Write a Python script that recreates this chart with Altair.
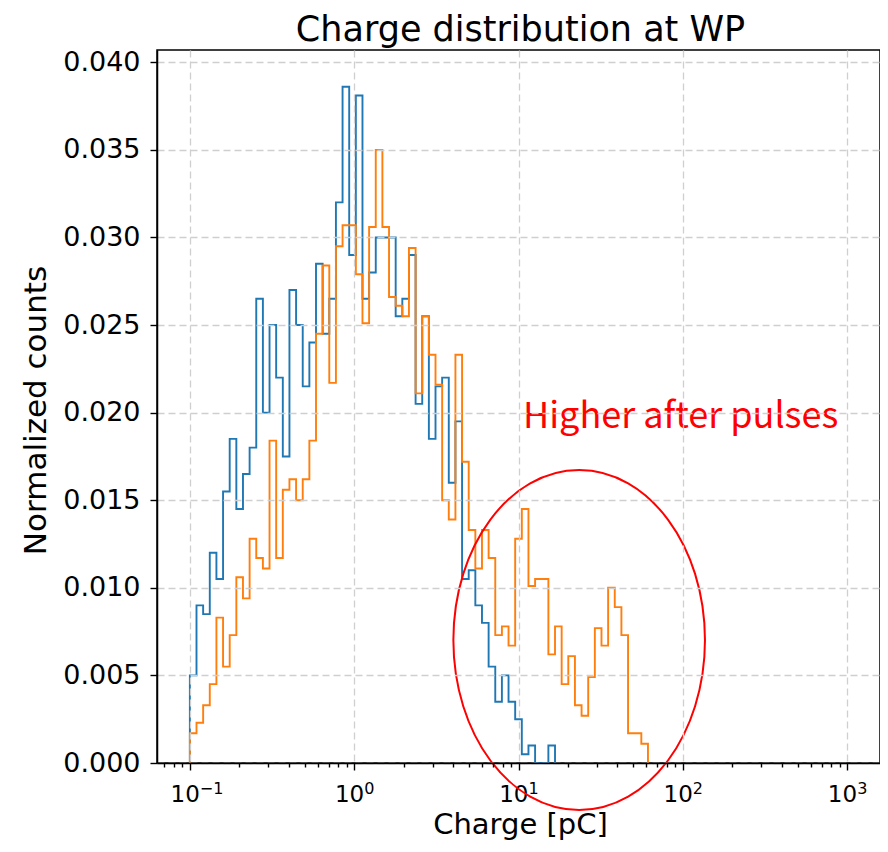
import altair as alt
import numpy as np
import pandas as pd

# ---- data ----
bin_log_start, bin_log_stop, bin_edge_count = -1, 3, 100   # np.logspace bins

blue_name = "Before"
orange_name = "After"

blue_values = [
    0.0050, 0.0090, 0.0085, 0.0120, 0.0105, 0.0155, 0.0185, 0.0145, 0.0165, 0.0180,
    0.0265, 0.0200, 0.0250, 0.0220, 0.0175, 0.0270, 0.0250, 0.0215, 0.0240, 0.0285,
    0.0245, 0.0265, 0.0320, 0.0386, 0.0290, 0.0381, 0.0265, 0.0280, 0.0300, 0.0300,
    0.0300, 0.0255, 0.0265, 0.0290, 0.0205, 0.0255, 0.0185, 0.0215, 0.0220, 0.0160,
    0.0195, 0.0105, 0.0110, 0.0090, 0.0080, 0.0055, 0.0035, 0.0050, 0.0035, 0.0025,
    0.0005, 0.0010, 0.0000, 0.0000, 0.0010,
]
orange_values = [
    0.0017, 0.0023, 0.0033, 0.0045, 0.0083, 0.0055, 0.0073, 0.0106, 0.0094, 0.0128,
    0.0117, 0.0111, 0.0184, 0.0117, 0.0156, 0.0162, 0.0150, 0.0162, 0.0184, 0.0245,
    0.0284, 0.0217, 0.0295, 0.0307, 0.0307, 0.0279, 0.0251, 0.0306, 0.0350, 0.0306,
    0.0266, 0.0261, 0.0255, 0.0294, 0.0211, 0.0255, 0.0233, 0.0216, 0.0150, 0.0139,
    0.0233, 0.0172, 0.0133, 0.0111, 0.0133, 0.0117, 0.0073, 0.0078, 0.0067, 0.0128,
    0.0145, 0.0101, 0.0105, 0.0105, 0.0062, 0.0078, 0.0045, 0.0061, 0.0033, 0.0027,
    0.0049, 0.0077, 0.0067, 0.0100, 0.0089, 0.0073, 0.0017, 0.0017, 0.0011,
]

major_ticks = [0.1, 1, 10, 100, 1000]
major_base = ["10", "10", "10", "10", "10"]
major_exponents = ["\u22121", "0", "1", "2", "3"]
minor_multipliers = [2, 3, 4, 5, 6, 7, 8, 9]
y_ticks = [0.000, 0.005, 0.010, 0.015, 0.020, 0.025, 0.030, 0.035, 0.040]

x_domain = [10 ** -1.2, 10 ** 3.2]
y_domain = [0.0, 0.0407]

chart_title = "Charge distribution at WP"
annotation_text = "Higher after pulses"
annotation_pos = (10.65, 0.0191)
ellipse_center = (23.4, 0.00702)

W, H = 723, 713

# ---- build step-outline table ----
edges = np.logspace(bin_log_start, bin_log_stop, bin_edge_count)


def step_rows(name, values):
    rows = [{"series": name, "x": edges[0], "y": 0.0, "o": 0}]
    for i, v in enumerate(values):
        rows.append({"series": name, "x": edges[i], "y": v, "o": i + 1})
    rows.append({"series": name, "x": edges[len(values)], "y": 0.0, "o": len(values) + 1})
    return rows


hist_df = pd.DataFrame(step_rows(blue_name, blue_values) + step_rows(orange_name, orange_values))

minor_ticks = []
for e in range(-2, 4):
    for m in minor_multipliers:
        v = round(m * 10.0 ** e, 6)
        if x_domain[0] < v < x_domain[1]:
            minor_ticks.append(v)

major_test = " || ".join(f"datum.value == {v}" for v in major_ticks)

FONT = "DejaVu Sans"
GRID = dict(gridColor="#cfcfcf", gridWidth=1.3, gridDash=[7, 4])

x_axis = alt.Axis(
    values=sorted(major_ticks + minor_ticks),
    labels=False,
    tickColor="black", tickWidth=1.4,
    tickSize={"condition": {"test": major_test, "value": 7}, "value": 4},
    domainColor="black", domainWidth=1.5,
    grid=True,
    gridOpacity={"condition": {"test": major_test, "value": 1}, "value": 0},
    title="Charge [pC]", titleFont=FONT, titleFontSize=29, titleFontWeight="normal",
    titleColor="black", titleX=363, titleY=70.5, titleBaseline="alphabetic",
    titleAlign="center",
    zindex=1,
    **GRID,
)

y_axis = alt.Axis(
    values=y_ticks, format=".3f",
    labelFont=FONT, labelFontSize=27, labelColor="black",
    labelPadding=10, labelFlush=False, labelOverlap=False,
    tickColor="black", tickWidth=1.4, tickSize=7,
    domainColor="black", domainWidth=1.5,
    grid=True,
    title="Normalized counts", titleFont=FONT, titleFontSize=31, titleFontWeight="normal",
    titleColor="black", titleAngle=-90, titleX=-112, titleY=360,
    titleBaseline="alphabetic", titleAlign="center",
    zindex=1,
    **GRID,
)

x_scale = alt.Scale(type="log", domain=x_domain, nice=False)
y_scale = alt.Scale(domain=y_domain, nice=False, zero=True)

lines = alt.Chart(hist_df).mark_line(interpolate="step-after", strokeWidth=1.9).encode(
    x=alt.X("x:Q", scale=x_scale, axis=x_axis),
    y=alt.Y("y:Q", scale=y_scale, axis=y_axis),
    color=alt.Color(
        "series:N",
        scale=alt.Scale(domain=[blue_name, orange_name], range=["#1f77b4", "#ff7f0e"]),
        legend=None,
    ),
    order=alt.Order("o:Q"),
    detail="series:N",
)

# x tick labels as 10 with a raised exponent
tick_df = pd.DataFrame({"x": major_ticks, "base": major_base, "exp": major_exponents})
tick_base = alt.Chart(tick_df).mark_text(
    font=FONT, fontSize=23, color="black", align="right", baseline="alphabetic", dx=10,
).encode(x=alt.X("x:Q", scale=x_scale), y=alt.value(H + 39), text="base:N")
tick_exp = alt.Chart(tick_df).mark_text(
    font=FONT, fontSize=16, color="black", align="left", baseline="alphabetic", dx=10,
).encode(x=alt.X("x:Q", scale=x_scale), y=alt.value(H + 31), text="exp:N")

# title
title_df = pd.DataFrame({"t": [chart_title]})
title = alt.Chart(title_df).mark_text(
    font=FONT, fontSize=35, color="black", align="center", baseline="alphabetic",
).encode(x=alt.value(W / 2 + 2), y=alt.value(-9.5), text="t:N")

ell_df = pd.DataFrame({"x": [ellipse_center[0]], "y": [ellipse_center[1]]})
rx_px, ry_px = 125.8, 170.0
ellipse_path = f"M -1 0 A 1 {ry_px / rx_px:.4f} 0 1 1 1 0 A 1 {ry_px / rx_px:.4f} 0 1 1 -1 0 Z"
ellipse = alt.Chart(ell_df).mark_point(
    shape=ellipse_path, size=(2 * rx_px) ** 2, filled=False,
    stroke="#ff0000", strokeWidth=2, opacity=1,
).encode(x=alt.X("x:Q", scale=x_scale), y=alt.Y("y:Q", scale=y_scale))

txt_df = pd.DataFrame({"x": [annotation_pos[0]], "y": [annotation_pos[1]], "t": [annotation_text]})
label = alt.Chart(txt_df).mark_text(
    font="Noto Sans CJK JP", fontSize=36, color="#ff0000",
    align="left", baseline="alphabetic",
).encode(x=alt.X("x:Q", scale=x_scale), y=alt.Y("y:Q", scale=y_scale), text="t:N")

chart = alt.layer(lines, tick_base, tick_exp, title, ellipse, label).properties(
    width=W, height=H,
    autosize=alt.AutoSizeParams(type="none"),
    padding={"left": 149, "top": 42, "right": 0, "bottom": 77},
).configure_view(stroke="black", strokeWidth=1.5)

chart.save("out.html", embed_options={"renderer": "svg", "actions": False})
